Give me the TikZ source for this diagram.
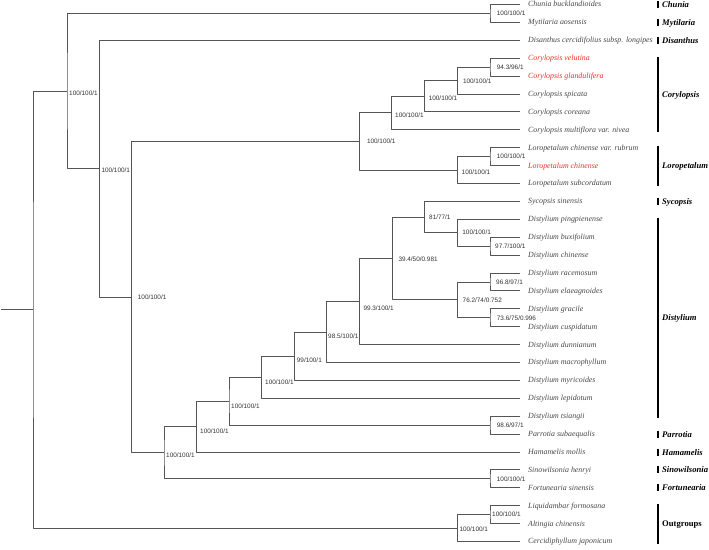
\documentclass[tikz,border=0pt]{standalone}
\usepackage{fontspec}
\setmainfont{Liberation Serif}
\newfontfamily\supfont{Liberation Sans}
\usetikzlibrary{calc}

\definecolor{branchgray}{RGB}{85,85,85}
\definecolor{tipgray}{RGB}{70,70,70}
\definecolor{tipred}{RGB}{235,45,45}

\tikzset{
  branch/.style={draw=branchgray, line width=0.9pt},
  tiplabel/.style={anchor=base west, inner sep=0pt, font=\fontsize{7.9}{9}\selectfont\itshape},
  support/.style={anchor=west, inner sep=0pt, text=black!80, font=\supfont\fontsize{6.4}{7}\selectfont},
  groupbar/.style={line width=2.5pt, black},
  grouplabel/.style={anchor=base west, inner sep=0pt, font=\fontsize{8.6}{10}\selectfont\bfseries\itshape},
}

\begin{document}
\begin{tikzpicture}[x=1pt,y=-1pt,line join=round]
  % Frame of the original figure.
  \useasboundingbox (0,0) rectangle (709,549);

  % Tips, one row every 17.9 units, top to bottom.
  \foreach \i/\sp/\col in {
      1/Chunia bucklandioides/tipgray,
      2/Mytilaria aosensis/tipgray,
      3/Disanthus cercidifolius subsp. longipes/tipgray,
      4/Corylopsis velutina/tipred,
      5/Corylopsis glandulifera/tipred,
      6/Corylopsis spicata/tipgray,
      7/Corylopsis coreana/tipgray,
      8/Corylopsis multiflora var. nivea/tipgray,
      9/Loropetalum chinense var. rubrum/tipgray,
      10/Loropetalum chinense/tipred,
      11/Loropetalum subcordatum/tipgray,
      12/Sycopsis sinensis/tipgray,
      13/Distylium pingpienense/tipgray,
      14/Distylium buxifolium/tipgray,
      15/Distylium chinense/tipgray,
      16/Distylium racemosum/tipgray,
      17/Distylium elaeagnoides/tipgray,
      18/Distylium gracile/tipgray,
      19/Distylium cuspidatum/tipgray,
      20/Distylium dunnianum/tipgray,
      21/Distylium macrophyllum/tipgray,
      22/Distylium myricoides/tipgray,
      23/Distylium lepidotum/tipgray,
      24/Distylium tsiangii/tipgray,
      25/Parrotia subaequalis/tipgray,
      26/Hamamelis mollis/tipgray,
      27/Sinowilsonia henryi/tipgray,
      28/Fortunearia sinensis/tipgray,
      29/Liquidambar formosana/tipgray,
      30/Altingia chinensis/tipgray,
      31/Cercidiphyllum japonicum/tipgray} {
    \pgfmathsetmacro\yy{4.5+17.9*(\i-1)}
    \coordinate (t\i) at (520,\yy);
    \node[tiplabel, text=\col] (s\i) at ($(t\i)+(8,2.4)$) {\sp};
  }

  % Internal nodes (x = depth, y = midpoint of children).
  \coordinate (stub)   at (1,309.6);
  \coordinate (root)   at (33,309.6);
  \coordinate (ham)    at (67,91.1);
  \coordinate (chmy)   at (490,13.45);
  \coordinate (dis)    at (99.3,168.7);
  \coordinate (core)   at (131.7,297);
  \coordinate (corlor) at (359.3,141.2);
  \coordinate (cor1)   at (391.7,112.9);
  \coordinate (cor2)   at (424.3,96.3);
  \coordinate (cor3)   at (457.5,80.6);
  \coordinate (cor4)   at (490,67.2);
  \coordinate (lor1)   at (457.5,170.1);
  \coordinate (lor2)   at (490,156.7);
  \coordinate (dist0)  at (164,452.8);
  \coordinate (dist1)  at (196.7,426.6);
  \coordinate (dist2)  at (229,401.2);
  \coordinate (dist3)  at (261.7,377.3);
  \coordinate (dist4)  at (294.3,356.2);
  \coordinate (dist5)  at (326.7,332);
  \coordinate (dist6)  at (359.3,301.5);
  \coordinate (dist7)  at (392.3,258.5);
  \coordinate (syc)    at (424.3,217.1);
  \coordinate (dpin)   at (457.5,232.7);
  \coordinate (dbux)   at (490,246.2);
  \coordinate (drac)   at (457.5,299.9);
  \coordinate (drac1)  at (490,282);
  \coordinate (dgra)   at (490,317.8);
  \coordinate (parr)   at (490,425.2);
  \coordinate (sinf)   at (490,478.9);
  \coordinate (out1)   at (457.5,528.1);
  \coordinate (out2)   at (490,514.7);

  % Branches: upper child, node, lower child.
  \draw[branch] (stub) -- (root);
  \draw[branch] (ham) -| (root) |- (out1);
  \draw[branch] (chmy) -| (ham) |- (dis);
  \draw[branch] (t1) -| (chmy) |- (t2);
  \draw[branch] (t3) -| (dis) |- (core);
  \draw[branch] (corlor) -| (core) |- (dist0);
  \draw[branch] (cor1) -| (corlor) |- (lor1);
  \draw[branch] (cor2) -| (cor1) |- (t8);
  \draw[branch] (cor3) -| (cor2) |- (t7);
  \draw[branch] (cor4) -| (cor3) |- (t6);
  \draw[branch] (t4) -| (cor4) |- (t5);
  \draw[branch] (lor2) -| (lor1) |- (t11);
  \draw[branch] (t9) -| (lor2) |- (t10);
  \draw[branch] (dist1) -| (dist0) |- (sinf);
  \draw[branch] (dist2) -| (dist1) |- (t26);
  \draw[branch] (dist3) -| (dist2) |- (parr);
  \draw[branch] (dist4) -| (dist3) |- (t23);
  \draw[branch] (dist5) -| (dist4) |- (t22);
  \draw[branch] (dist6) -| (dist5) |- (t21);
  \draw[branch] (dist7) -| (dist6) |- (t20);
  \draw[branch] (syc) -| (dist7) |- (drac);
  \draw[branch] (t12) -| (syc) |- (dpin);
  \draw[branch] (t13) -| (dpin) |- (dbux);
  \draw[branch] (t14) -| (dbux) |- (t15);
  \draw[branch] (drac1) -| (drac) |- (dgra);
  \draw[branch] (t16) -| (drac1) |- (t17);
  \draw[branch] (t18) -| (dgra) |- (t19);
  \draw[branch] (t24) -| (parr) |- (t25);
  \draw[branch] (t27) -| (sinf) |- (t28);
  \draw[branch] (out2) -| (out1) |- (t31);
  \draw[branch] (t29) -| (out2) |- (t30);

  % Support values (ML bootstrap / MP bootstrap / posterior).
  \node[support] (b-ham)    at ($(ham)+(2,2)$)      {100/100/1};
  \node[support] (b-chmy)   at ($(chmy)+(6.7,0)$)   {100/100/1};
  \node[support] (b-dis)    at ($(dis)+(2,2)$)      {100/100/1};
  \node[support] (b-core)   at ($(core)+(6,0)$)     {100/100/1};
  \node[support] (b-corlor) at ($(corlor)+(7.5,0.5)$) {100/100/1};
  \node[support] (b-cor1)   at ($(cor1)+(3.3,2)$)   {100/100/1};
  \node[support] (b-cor2)   at ($(cor2)+(4.3,1.7)$) {100/100/1};
  \node[support] (b-cor3)   at ($(cor3)+(5.3,1)$)   {100/100/1};
  \node[support] (b-cor4)   at ($(cor4)+(6.7,0.5)$) {94.3/96/1};
  \node[support] (b-lor1)   at ($(lor1)+(4,2.6)$)   {100/100/1};
  \node[support] (b-lor2)   at ($(lor2)+(6.7,-0.7)$) {100/100/1};
  \node[support] (b-dist0)  at ($(dist0)+(2,2.9)$)  {100/100/1};
  \node[support] (b-dist1)  at ($(dist1)+(3.3,4.4)$) {100/100/1};
  \node[support] (b-dist2)  at ($(dist2)+(2,4.8)$)  {100/100/1};
  \node[support] (b-dist3)  at ($(dist3)+(3.3,5.4)$) {100/100/1};
  \node[support] (b-dist4)  at ($(dist4)+(2.4,3.8)$) {99/100/1};
  \node[support] (b-dist5)  at ($(dist5)+(1.3,4.7)$) {98.5/100/1};
  \node[support] (b-dist6)  at ($(dist6)+(4,7)$)    {99.3/100/1};
  \node[support] (b-dist7)  at ($(dist7)+(6,1)$)    {39.4/50/0.981};
  \node[support] (b-syc)    at ($(syc)+(4.7,0)$)    {81/77/1};
  \node[support] (b-dpin)   at ($(dpin)+(4.7,0)$)   {100/100/1};
  \node[support] (b-dbux)   at ($(dbux)+(5,0)$)     {97.7/100/1};
  \node[support] (b-drac)   at ($(drac)+(5,0)$)     {76.2/74/0.752};
  \node[support] (b-drac1)  at ($(drac1)+(6,0)$)    {96.8/97/1};
  \node[support] (b-dgra)   at ($(dgra)+(6.7,0)$)   {73.6/75/0.996};
  \node[support] (b-parr)   at ($(parr)+(6.7,0)$)   {98.6/97/1};
  \node[support] (b-sinf)   at ($(sinf)+(6.7,0.4)$) {100/100/1};
  \node[support] (b-out1)   at ($(out1)+(1.8,1.2)$) {100/100/1};
  \node[support] (b-out2)   at ($(out2)+(2,0)$)     {100/100/1};

  % Genus brackets on the right.
  \draw[groupbar] ($(t1)+(138,-3.5)$) -- ($(t1)+(138,3.5)$);
  \node[grouplabel] (g-chu) at ($(t1)+(142,3)$) {Chunia};
  \draw[groupbar] ($(t2)+(138,-3.5)$) -- ($(t2)+(138,3.5)$);
  \node[grouplabel] (g-myt) at ($(t2)+(142,3)$) {Mytilaria};
  \draw[groupbar] ($(t3)+(138,-3.5)$) -- ($(t3)+(138,3.5)$);
  \node[grouplabel] (g-dis) at ($(t3)+(142,3)$) {Disanthus};
  \draw[groupbar] ($(t4)+(138,-1.5)$) -- ($(t8)+(138,2)$);
  \node[grouplabel] (g-cor) at ($(t4)!0.5!(t8)+(142,3)$) {Corylopsis};
  \draw[groupbar] ($(t9)+(138,-1.5)$) -- ($(t11)+(138,2)$);
  \node[grouplabel] (g-lor) at ($(t9)!0.5!(t11)+(142,3)$) {Loropetalum};
  \draw[groupbar] ($(t12)+(138,-3.5)$) -- ($(t12)+(138,3.5)$);
  \node[grouplabel] (g-syc) at ($(t12)+(142,3)$) {Sycopsis};
  \draw[groupbar] ($(t13)+(138,-1.5)$) -- ($(t24)+(138,2)$);
  \node[grouplabel] (g-dst) at ($(t13)!0.5!(t24)+(142,3)$) {Distylium};
  \draw[groupbar] ($(t25)+(138,-3.5)$) -- ($(t25)+(138,3.5)$);
  \node[grouplabel] (g-par) at ($(t25)+(142,3)$) {Parrotia};
  \draw[groupbar] ($(t26)+(138,-3.5)$) -- ($(t26)+(138,3.5)$);
  \node[grouplabel] (g-ham) at ($(t26)+(142,3)$) {Hamamelis};
  \draw[groupbar] ($(t27)+(138,-3.5)$) -- ($(t27)+(138,3.5)$);
  \node[grouplabel] (g-sin) at ($(t27)+(142,3)$) {Sinowilsonia};
  \draw[groupbar] ($(t28)+(138,-3.5)$) -- ($(t28)+(138,3.5)$);
  \node[grouplabel] (g-for) at ($(t28)+(142,3)$) {Fortunearia};
  \draw[groupbar] ($(t29)+(138,-1.5)$) -- ($(t31)+(138,2)$);
  \node[grouplabel, font=\fontsize{8.6}{10}\selectfont\bfseries] (g-out) at ($(t29)!0.5!(t31)+(142,3)$) {Outgroups};
\end{tikzpicture}
\end{document}
